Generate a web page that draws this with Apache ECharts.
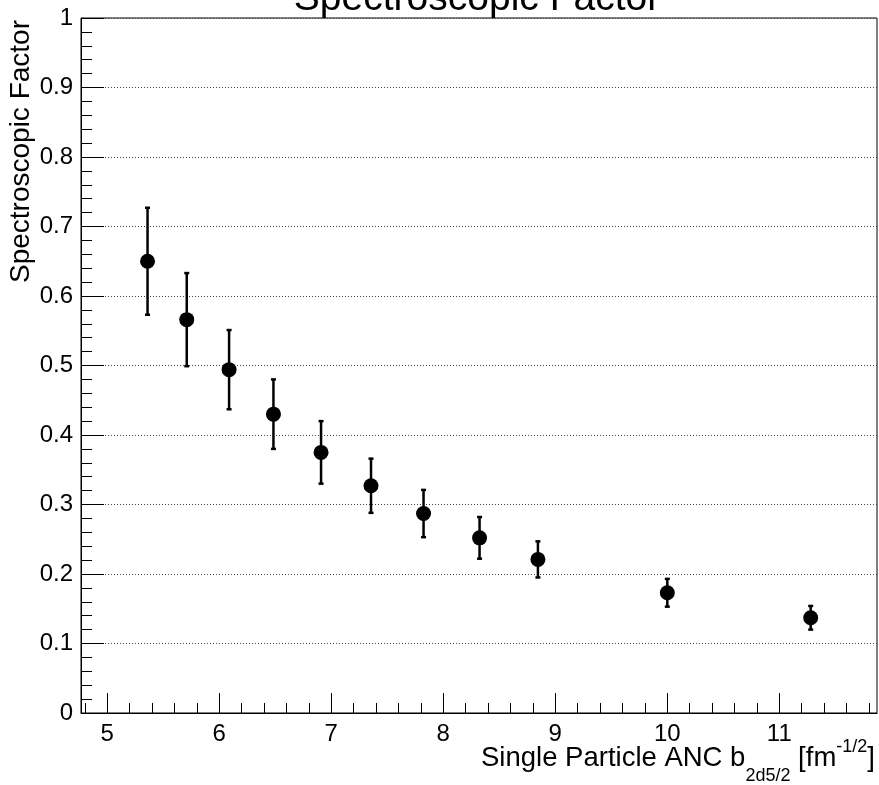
<!DOCTYPE html>
<html>
<head>
<meta charset="utf-8">
<script src="https://cdn.jsdelivr.net/npm/echarts@6/dist/echarts.min.js"></script>
<style>html,body{margin:0;padding:0;background:#fff}#c{width:879px;height:785px}</style>
</head>
<body>
<div id="c"></div>
<script>
// ---- data ----
const xVals = [5.36, 5.71, 6.088, 6.484, 6.909, 7.355, 7.824, 8.324, 8.845, 10.0, 11.28];
const yVals = [0.650, 0.566, 0.494, 0.430, 0.375, 0.327, 0.287, 0.252, 0.221, 0.173, 0.137];
const yErrs = [0.077, 0.067, 0.057, 0.050, 0.045, 0.039, 0.034, 0.030, 0.026, 0.020, 0.017];
const xMajorTicks = [5, 6, 7, 8, 9, 10, 11];
const xMinorTicks = [4.8, 5.2, 5.4, 5.6, 5.8, 6.2, 6.4, 6.6, 6.8, 7.2, 7.4, 7.6, 7.8,
  8.2, 8.4, 8.6, 8.8, 9.2, 9.4, 9.6, 9.8, 10.2, 10.4, 10.6, 10.8, 11.2, 11.4, 11.6, 11.8];
const xRange = [4.766, 11.872];
const yRange = [0, 1];
const titleText = 'Spectroscopic Factor';
const yTitle = 'Spectroscopic Factor';
const xTitleParts = ['Single Particle ANC b', '2d5/2', ' [fm', '-1/2', ']'];

const FONT = '"Liberation Sans", Arial, Helvetica, sans-serif';
const pts = xVals.map((x, i) => [x, yVals[i], yErrs[i]]);

const cv = document.createElement('canvas').getContext('2d');
function mw(t, s) { cv.font = s + 'px ' + FONT; return cv.measureText(t).width; }

// x title pieces layout (main text, subscript, superscript)
const xMainSize = 27.5, xSmall = 18;
const mainBase = 768, subBase = 782, supBase = 753;
let cx = 481;
const xTitleEls = [];
const specs = [
  { t: xTitleParts[0], s: xMainSize, b: mainBase },
  { t: xTitleParts[1], s: xSmall, b: subBase },
  { t: xTitleParts[2], s: xMainSize, b: mainBase },
  { t: xTitleParts[3], s: xSmall, b: supBase },
  { t: xTitleParts[4], s: xMainSize, b: mainBase }
];
specs.forEach(sp => {
  xTitleEls.push({ type: 'text', x: cx, y: sp.b - 0.3465 * sp.s, silent: true,
    style: { text: sp.t, font: sp.s + 'px ' + FONT, fill: '#000', align: 'left', verticalAlign: 'middle' } });
  cx += mw(sp.t, sp.s);
});

const chart = echarts.init(document.getElementById('c'), null, { renderer: 'canvas' });
chart.setOption({
  animation: false,
  backgroundColor: '#fff',
  grid: { left: 81, right: 2, top: 18, bottom: 72, show: true, borderColor: '#000', borderWidth: 1, backgroundColor: 'transparent' },
  xAxis: [{
    type: 'value', min: xRange[0], max: xRange[1],
    axisLine: { show: true, onZero: false, lineStyle: { color: '#000', width: 1 } },
    axisTick: { show: true, inside: true, length: 20, customValues: xMajorTicks, lineStyle: { color: '#000', width: 1 } },
    axisLabel: { show: true, customValues: xMajorTicks, fontSize: 24, color: '#000', fontFamily: FONT, margin: 9 },
    splitLine: { show: false }
  }, {
    type: 'value', min: xRange[0], max: xRange[1], position: 'bottom',
    axisLine: { show: false },
    axisTick: { show: true, inside: true, length: 10, customValues: xMinorTicks, lineStyle: { color: '#000', width: 1 } },
    axisLabel: { show: false },
    splitLine: { show: false }
  }],
  yAxis: {
    type: 'value', min: yRange[0], max: yRange[1], interval: 0.1,
    axisLine: { show: true, lineStyle: { color: '#000', width: 1 } },
    axisTick: { show: true, inside: true, length: 23, lineStyle: { color: '#000', width: 1 } },
    minorTick: { show: true, splitNumber: 5, length: 11, lineStyle: { color: '#000', width: 1 } },
    axisLabel: { fontSize: 24, color: '#000', fontFamily: FONT, margin: 8 },
    splitLine: { show: true, lineStyle: { color: '#444', width: 1, type: [1, 2] } }
  },
  graphic: [
    { type: 'text', x: 477, y: 13 - 0.3465 * 39, silent: true,
      style: { text: titleText, font: '39px ' + FONT, fill: '#000', align: 'center', verticalAlign: 'middle' } },
    { type: 'text', x: 31 - 0.3465 * 28, y: 20, rotation: Math.PI / 2, silent: true,
      style: { text: yTitle, font: '28px ' + FONT, fill: '#000', align: 'right', verticalAlign: 'middle' } }
  ].concat(xTitleEls),
  series: [{
    type: 'custom',
    xAxisIndex: 0,
    data: pts,
    renderItem: function (params, api) {
      const x = api.value(0), y = api.value(1), e = api.value(2);
      const hi = api.coord([x, y + e]);
      const lo = api.coord([x, y - e]);
      const cap = 2.5;
      const st = { stroke: '#000', lineWidth: 2.5 };
      return {
        type: 'group',
        children: [
          { type: 'line', shape: { x1: hi[0], y1: hi[1], x2: lo[0], y2: lo[1] }, style: st },
          { type: 'line', shape: { x1: hi[0] - cap, y1: hi[1], x2: hi[0] + cap, y2: hi[1] }, style: st },
          { type: 'line', shape: { x1: lo[0] - cap, y1: lo[1], x2: lo[0] + cap, y2: lo[1] }, style: st }
        ]
      };
    },
    z: 2
  }, {
    type: 'scatter',
    xAxisIndex: 0,
    data: pts.map(p => [p[0], p[1]]),
    symbol: 'circle', symbolSize: 15,
    itemStyle: { color: '#000', opacity: 1 },
    z: 3
  }]
});
</script>
</body>
</html>
